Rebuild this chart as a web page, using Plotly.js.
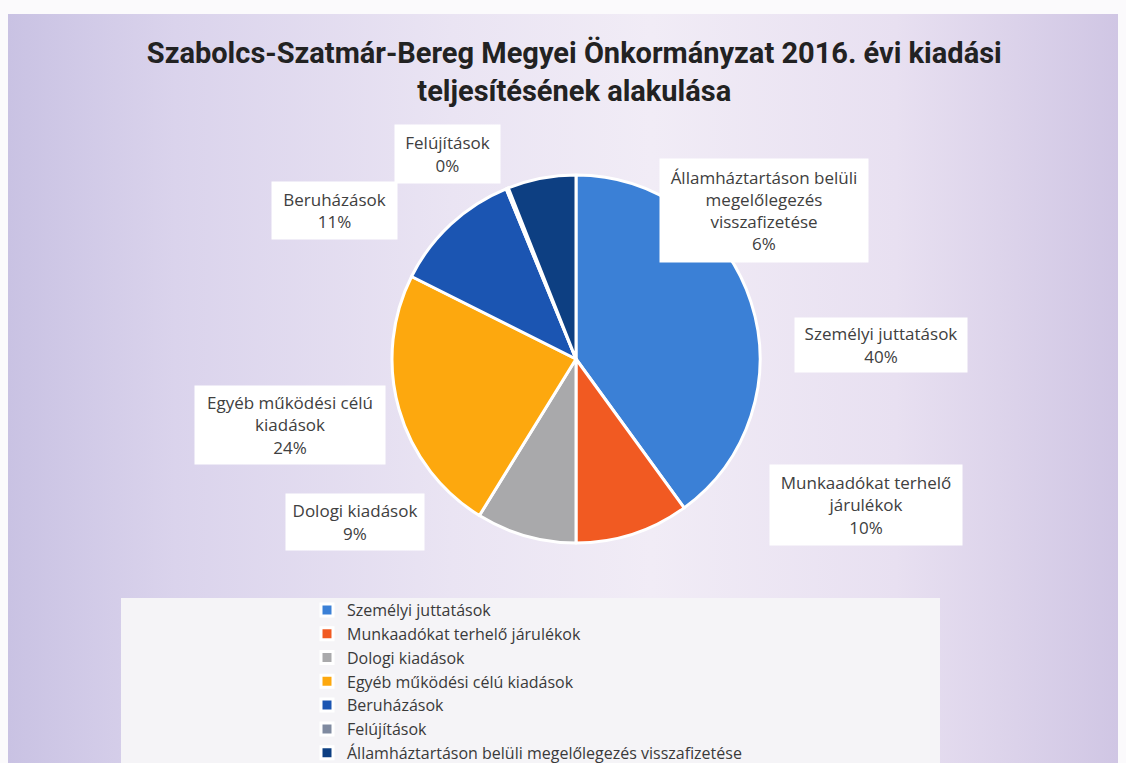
<!DOCTYPE html>
<html>
<head>
<meta charset="utf-8">
<script src="https://cdn.plot.ly/plotly-3.0.1.min.js"></script>
<style>
  html, body { margin: 0; padding: 0; background: #ffffff; }
  #wrap { position: relative; width: 1126px; height: 763px; overflow: hidden; background: #fbfafc; }
  #bg { position: absolute; left: 8px; top: 14px; right: 8px; bottom: 0;
        background: linear-gradient(90deg, #c9c2e3 0%, #dad3ec 15%, #eae4f3 40%, #f1ecf6 58%, #e8e0f1 80%, #d0c6e4 100%); }
  #chart { position: absolute; left: 0; top: 0; width: 1126px; height: 763px; }
</style>
</head>
<body>
<div id="wrap"><div id="bg"></div><div id="chart"></div></div>
<script>
// ---- data ----
const categories = [
  "Személyi juttatások",
  "Munkaadókat terhelő járulékok",
  "Dologi kiadások",
  "Egyéb működési célú kiadások",
  "Beruházások",
  "Felújítások",
  "Államháztartáson belüli megelőlegezés visszafizetése"
];
const values = [40.0, 10.0, 8.8, 23.6, 11.4, 0.2, 6.0];
const labelLines = [
  "Személyi juttatások",
  "Munkaadókat terhelő<br>járulékok",
  "Dologi kiadások",
  "Egyéb működési célú<br>kiadások",
  "Beruházások",
  "Felújítások",
  "Államháztartáson belüli<br>megelőlegezés<br>visszafizetése"
];
const titleText = "Szabolcs-Szatmár-Bereg Megyei Önkormányzat 2016. évi kiadási<br>teljesítésének alakulása";

// ---- styles ----
const colors = ["#3b80d6", "#f15a22", "#a9a9ab", "#fda80e", "#1b55b2", "#7f8aa0", "#0d3f82"];
const W = 1126, H = 763;
// label box centres and sizes in pixels
const labelBoxes = [
  {cx: 881, cy: 345, w: 172, h: 54},
  {cx: 866, cy: 505, w: 192, h: 80},
  {cx: 355, cy: 522, w: 138, h: 56},
  {cx: 290, cy: 425, w: 190, h: 78},
  {cx: 334, cy: 211, w: 125, h: 57},
  {cx: 447, cy: 154, w: 105, h: 58},
  {cx: 764, cy: 211, w: 208, h: 103}
];
const pie = {cx: 576, cy: 359, r: 184};

const total = values.reduce((a, b) => a + b, 0);
const pad = 2;
const annotations = categories.map((c, i) => {
  const b = labelBoxes[i];
  const pct = Math.round(values[i] / total * 100) + "%";
  return {
    xref: "paper", yref: "paper",
    x: b.cx / W, y: 1 - b.cy / H,
    xanchor: "center", yanchor: "middle",
    text: labelLines[i] + "<br>" + pct,
    showarrow: false,
    bgcolor: "#ffffff",
    borderpad: pad,
    width: b.w - 2 * pad, height: b.h - 2 * pad,
    align: "center", valign: "middle",
    font: {family: "Open Sans, sans-serif", size: 17, color: "#404040"}
  };
});

const trace = {
  type: "pie",
  labels: categories,
  values: values,
  sort: false,
  direction: "clockwise",
  rotation: 0,
  textinfo: "none",
  hoverinfo: "label+percent",
  marker: {colors: colors, line: {color: "#ffffff", width: 3}},
  domain: {
    x: [(pie.cx - pie.r) / W, (pie.cx + pie.r) / W],
    y: [1 - (pie.cy + pie.r) / H, 1 - (pie.cy - pie.r) / H]
  }
};

const layout = {
  width: W, height: H,
  margin: {l: 0, r: 0, t: 0, b: 0, autoexpand: false},
  paper_bgcolor: "rgba(0,0,0,0)",
  plot_bgcolor: "rgba(0,0,0,0)",
  title: {
    text: titleText,
    x: 0.51, xanchor: "center",
    y: 1 - 63 / H, yanchor: "middle",
    font: {family: "Roboto, sans-serif", size: 29, color: "#222222", weight: "bold"}
  },
  showlegend: true,
  legend: {
    x: 307 / W, xanchor: "left",
    y: 1 - 593 / H, yanchor: "top",
    bgcolor: "rgba(0,0,0,0)",
    font: {family: "Open Sans, sans-serif", size: 16, color: "#3a3a3a"},
    traceorder: "normal"
  },
  shapes: [{
    type: "rect", xref: "paper", yref: "paper", layer: "below",
    x0: 121 / W, x1: 940 / W, y0: -0.05, y1: 1 - 598 / H,
    fillcolor: "#f5f4f7", line: {width: 0}
  }],
  annotations: annotations
};

Plotly.newPlot("chart", [trace], layout, {displayModeBar: false, staticPlot: true});
</script>
</body>
</html>
